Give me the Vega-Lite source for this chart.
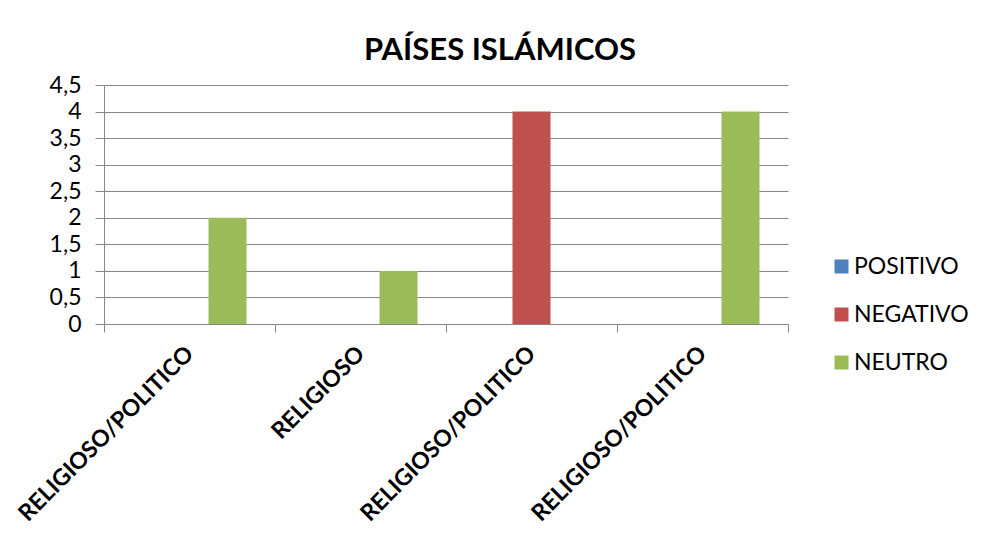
{
  "$schema": "https://vega.github.io/schema/vega-lite/v6.json",
  "width": 684,
  "height": 239,
  "autosize": {"type": "none"},
  "padding": {"left": 104, "top": 85, "right": 195, "bottom": 229},
  "background": "white",
  "title": {
    "text": "PAÍSES ISLÁMICOS",
    "font": "Lato",
    "fontSize": 31,
    "fontWeight": "bold",
    "color": "black",
    "anchor": "middle",
    "dx": 54,
    "dy": 44,
    "offset": 27,
    "baseline": "alphabetic"
  },
  "data": {
    "values": [
      {"cat": "c1", "serie": "POSITIVO", "valor": 0},
      {"cat": "c1", "serie": "NEGATIVO", "valor": 0},
      {"cat": "c1", "serie": "NEUTRO", "valor": 2},
      {"cat": "c2", "serie": "POSITIVO", "valor": 0},
      {"cat": "c2", "serie": "NEGATIVO", "valor": 0},
      {"cat": "c2", "serie": "NEUTRO", "valor": 1},
      {"cat": "c3", "serie": "POSITIVO", "valor": 0},
      {"cat": "c3", "serie": "NEGATIVO", "valor": 4},
      {"cat": "c3", "serie": "NEUTRO", "valor": 0},
      {"cat": "c4", "serie": "POSITIVO", "valor": 0},
      {"cat": "c4", "serie": "NEGATIVO", "valor": 0},
      {"cat": "c4", "serie": "NEUTRO", "valor": 4}
    ]
  },
  "mark": {"type": "bar"},
  "encoding": {
    "x": {
      "field": "cat",
      "type": "nominal",
      "sort": ["c1", "c2", "c3", "c4"],
      "scale": {"paddingInner": 0, "paddingOuter": 0},
      "axis": {
        "title": null,
        "labelExpr": "datum.value == 'c2' ? 'RELIGIOSO' : ((datum.value == 'c1' || datum.value == 'c3' || datum.value == 'c4') ? 'RELIGIOSO/POLITICO' : '')",
        "labelAngle": -45,
        "labelAlign": "right",
        "labelBaseline": "middle",
        "labelFont": "Lato",
        "labelFontWeight": "bold",
        "labelFontSize": 23,
        "labelColor": "black",
        "labelPadding": 18,
        "labelLimit": 500,
        "tickBand": "extent",
        "tickSize": 8,
        "tickColor": "#868686",
        "domainColor": "#868686",
        "grid": false
      }
    },
    "xOffset": {
      "field": "serie",
      "type": "nominal",
      "scale": {"domain": ["POSITIVO", "NEGATIVO", "NEUTRO"], "paddingInner": 0, "paddingOuter": 0.75}
    },
    "y": {
      "field": "valor",
      "type": "quantitative",
      "scale": {"domain": [0, 4.5], "nice": false},
      "axis": {
        "title": null,
        "values": [0, 0.5, 1, 1.5, 2, 2.5, 3, 3.5, 4, 4.5],
        "format": "~g",
        "labelExpr": "replace(datum.label, '.', ',')",
        "labelFont": "Lato",
        "labelFontSize": 23,
        "labelColor": "black",
        "labelPadding": 14,
        "tickSize": 9,
        "tickColor": "#868686",
        "domainColor": "#868686",
        "gridColor": "#868686",
        "grid": true
      }
    },
    "color": {
      "field": "serie",
      "type": "nominal",
      "scale": {"domain": ["POSITIVO", "NEGATIVO", "NEUTRO"], "range": ["#4F81BD", "#C0504D", "#9BBB59"]},
      "legend": {
        "title": null,
        "orient": "none",
        "legendX": 726,
        "legendY": 170,
        "symbolType": "square",
        "symbolSize": 196,
        "symbolStrokeWidth": 0,
        "labelFont": "Lato",
        "labelFontSize": 23,
        "labelColor": "black",
        "labelOffset": 1,
        "rowPadding": 24
      }
    }
  },
  "config": {"view": {"stroke": null}}
}
